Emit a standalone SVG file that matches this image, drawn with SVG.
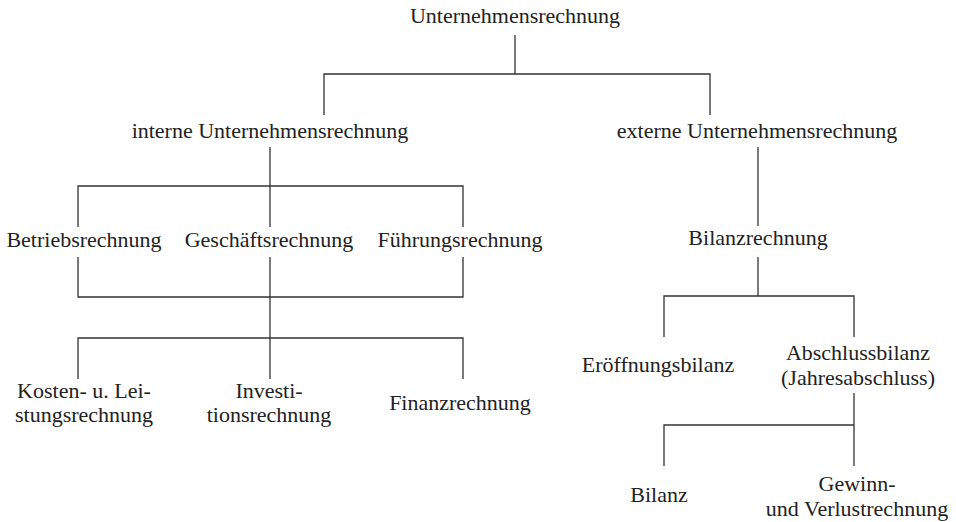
<svg xmlns="http://www.w3.org/2000/svg" width="956" height="522" viewBox="0 0 956 522">
<style>
  .t { font-family: 'Liberation Serif', 'Times New Roman', Times, 'DejaVu Serif', serif; font-size: 22px; fill: #222; text-anchor: middle; }
  .c { fill: none; stroke: #333; stroke-width: 1.3; }
</style>
<rect width="956" height="522" fill="#fff"/>
<g id="connectors">
  <path class="c" d="M515 35 V74"/>
  <path class="c" d="M324 115 V74 H710 V115"/>
  <path class="c" d="M270 147 V227"/>
  <path class="c" d="M78 227 V186 H463 V227"/>
  <path class="c" d="M78 257 V297 H463 V257"/>
  <path class="c" d="M270 257 V379"/>
  <path class="c" d="M78 379 V338 H463 V379"/>
  <path class="c" d="M758 147 V226"/>
  <path class="c" d="M758 257 V296"/>
  <path class="c" d="M664 337 V296 H854 V337"/>
  <path class="c" d="M854 393 V466"/>
  <path class="c" d="M664 466 V425 H854"/>
</g>
<g class="t" font-family="Liberation Serif, Times New Roman, serif">
<g id="root"><text x="515" y="23">Unternehmensrechnung</text></g>
<g id="intern"><text x="270" y="138">interne Unternehmensrechnung</text></g>
<g id="extern"><text x="757" y="138">externe Unternehmensrechnung</text></g>
<g id="betrieb"><text x="84" y="247">Betriebsrechnung</text></g>
<g id="geschaeft"><text x="269" y="247">Geschäftsrechnung</text></g>
<g id="fuehrung"><text x="460" y="247">Führungsrechnung</text></g>
<g id="bilanzrechnung"><text x="758" y="245">Bilanzrechnung</text></g>
<g id="kosten"><text x="84" y="398">Kosten- u. Lei-</text><text x="84" y="422">stungsrechnung</text></g>
<g id="invest"><text x="269" y="398">Investi-</text><text x="269" y="422">tionsrechnung</text></g>
<g id="finanz"><text x="460" y="410">Finanzrechnung</text></g>
<g id="eroeffnung"><text x="658" y="372">Eröffnungsbilanz</text></g>
<g id="abschluss"><text x="858" y="360">Abschlussbilanz</text><text x="858" y="385">(Jahresabschluss)</text></g>
<g id="bilanz"><text x="659" y="502">Bilanz</text></g>
<g id="guv"><text x="857" y="491">Gewinn-</text><text x="857" y="516">und Verlustrechnung</text></g>
</g>
</svg>
